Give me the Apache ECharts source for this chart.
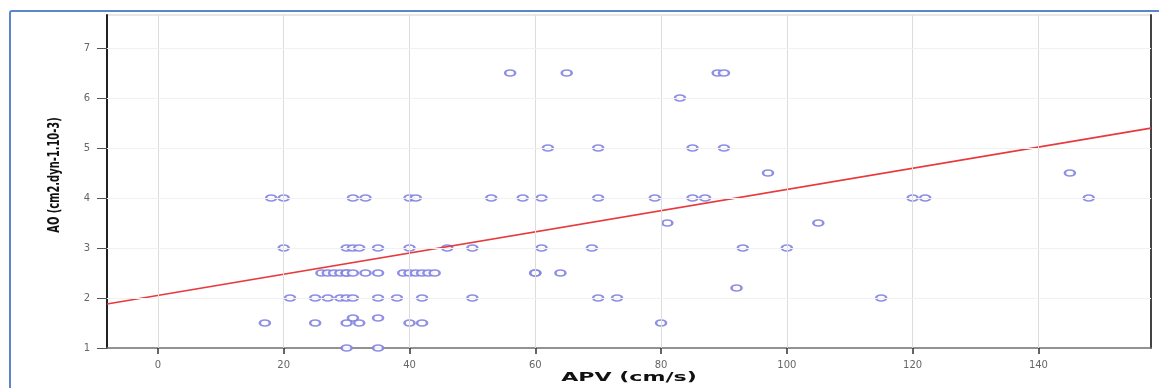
<!DOCTYPE html>
<html>
<head>
<meta charset="utf-8">
<script src="https://cdn.jsdelivr.net/npm/echarts@6/dist/echarts.min.js"></script>
<style>
  html, body { margin: 0; padding: 0; background: #fff; }
  #chart { width: 1159px; height: 388px; }
  #frame {
    position: absolute; left: 9px; top: 10px; width: 1200px; height: 420px;
    border-top: 2px solid #5b87c8; border-left: 2px solid #5b87c8;
    border-top-left-radius: 3px; pointer-events: none;
  }
</style>
</head>
<body>
<div id="chart"></div>
<div id="frame"></div>
<script>
// APV (cm/s) vs AO
const apv = [
  56, 65, 89, 90,
  83,
  62, 70, 85, 90,
  97, 145,
  18, 20, 31, 33, 40, 41, 53, 58, 61, 70, 79, 85, 87, 120, 122, 148,
  81, 105,
  20, 30, 31, 32, 35, 40, 46, 50, 61, 69, 93, 100,
  26, 27, 28, 29, 30, 30, 31, 33, 35, 39, 40, 41, 42, 43, 44, 60, 60, 64,
  92,
  21, 25, 27, 29, 30, 31, 35, 38, 42, 50, 70, 73, 115,
  31, 35,
  17, 25, 30, 32, 40, 42, 80,
  30, 35
]
const ao = [
  6.5, 6.5, 6.5, 6.5,
  6,
  5, 5, 5, 5,
  4.5, 4.5,
  4, 4, 4, 4, 4, 4, 4, 4, 4, 4, 4, 4, 4, 4, 4, 4,
  3.5, 3.5,
  3, 3, 3, 3, 3, 3, 3, 3, 3, 3, 3, 3,
  2.5, 2.5, 2.5, 2.5, 2.5, 2.5, 2.5, 2.5, 2.5, 2.5, 2.5, 2.5, 2.5, 2.5, 2.5, 2.5, 2.5, 2.5,
  2.2,
  2, 2, 2, 2, 2, 2, 2, 2, 2, 2, 2, 2, 2,
  1.6, 1.6,
  1.5, 1.5, 1.5, 1.5, 1.5, 1.5, 1.5,
  1, 1
]
const xTicks = [0, 20, 40, 60, 80, 100, 120, 140]
const yTicks = [1, 2, 3, 4, 5, 6, 7]
const xRange = [-8.1, 157.9]
const yRange = [1, 7.66]
// fit line
const fitIntercept = 2.05
const fitSlope = 0.0212

const chart = echarts.init(document.getElementById('chart'))

const points = apv.map((x, i) => [x, ao[i]])
const fitLine = xRange.map(x => [x, fitIntercept + fitSlope * x])

const tickLabel = { fontSize: 10, color: '#666', fontFamily: 'DejaVu Sans' }

chart.setOption({
  backgroundColor: '#fff',
  animation: false,
  grid: {
    left: 107, right: 8, top: 15, bottom: 40,
    show: true, borderColor: '#cfcfcf', borderWidth: 1
  },
  xAxis: {
    type: 'value',
    min: xRange[0],
    max: xRange[1],
    axisLine: { onZero: false, lineStyle: { color: '#777', width: 1.5 } },
    axisTick: { customValues: xTicks, length: 6, lineStyle: { color: '#333', width: 1.5 } },
    axisLabel: Object.assign({ customValues: xTicks, margin: 12 }, tickLabel),
    splitLine: { show: false }
  },
  yAxis: [{
    type: 'value',
    min: yRange[0],
    max: yRange[1],
    axisLine: { onZero: false, lineStyle: { color: '#222', width: 2 } },
    axisTick: { customValues: yTicks, length: 10, lineStyle: { color: '#555' } },
    axisLabel: Object.assign({ customValues: yTicks, margin: 17 }, tickLabel),
    splitLine: { show: false }
  }, {
    type: 'value',
    position: 'right',
    min: yRange[0],
    max: yRange[1],
    axisLine: { show: true, onZero: false, lineStyle: { color: '#444', width: 2 } },
    axisTick: { show: false },
    axisLabel: { show: false },
    splitLine: { show: false }
  }],
  graphic: [{
    type: 'text',
    x: 629,
    y: 378,
    scaleX: 1.7,
    style: {
      text: 'APV (cm/s)', fontSize: 13, fontWeight: 'bold', fill: '#111',
      fontFamily: 'DejaVu Sans', align: 'center', verticalAlign: 'middle'
    }
  }, {
    type: 'text',
    x: 55,
    y: 175,
    rotation: Math.PI / 2,
    scaleY: 1.4,
    style: {
      text: 'AO (cm2.dyn-1.10-3)', fontSize: 11, fontWeight: 'bold', fill: '#111',
      fontFamily: 'DejaVu Sans Condensed', align: 'center', verticalAlign: 'middle'
    }
  }],
  series: [
    {
      type: 'scatter',
      data: points,
      symbol: 'emptyCircle',
      symbolSize: [10, 6],
      itemStyle: { color: '#8383e0', borderWidth: 1, opacity: 0.9 },
      markLine: {
        silent: true,
        symbol: 'none',
        label: { show: false },
        lineStyle: { color: '#dcdcdc', width: 1, type: 'solid' },
        data: xTicks.map(v => ({ xAxis: v })).concat(yTicks.slice(1).map(v => ({ yAxis: v, lineStyle: { color: '#f1f1f1' } })))
      },
      z: 3
    },
    {
      type: 'line',
      data: fitLine,
      symbol: 'none',
      lineStyle: { color: '#e8393c', width: 1.6 },
      z: 4
    }
  ]
})

window.addEventListener('resize', () => chart.resize())
</script>
</body>
</html>
